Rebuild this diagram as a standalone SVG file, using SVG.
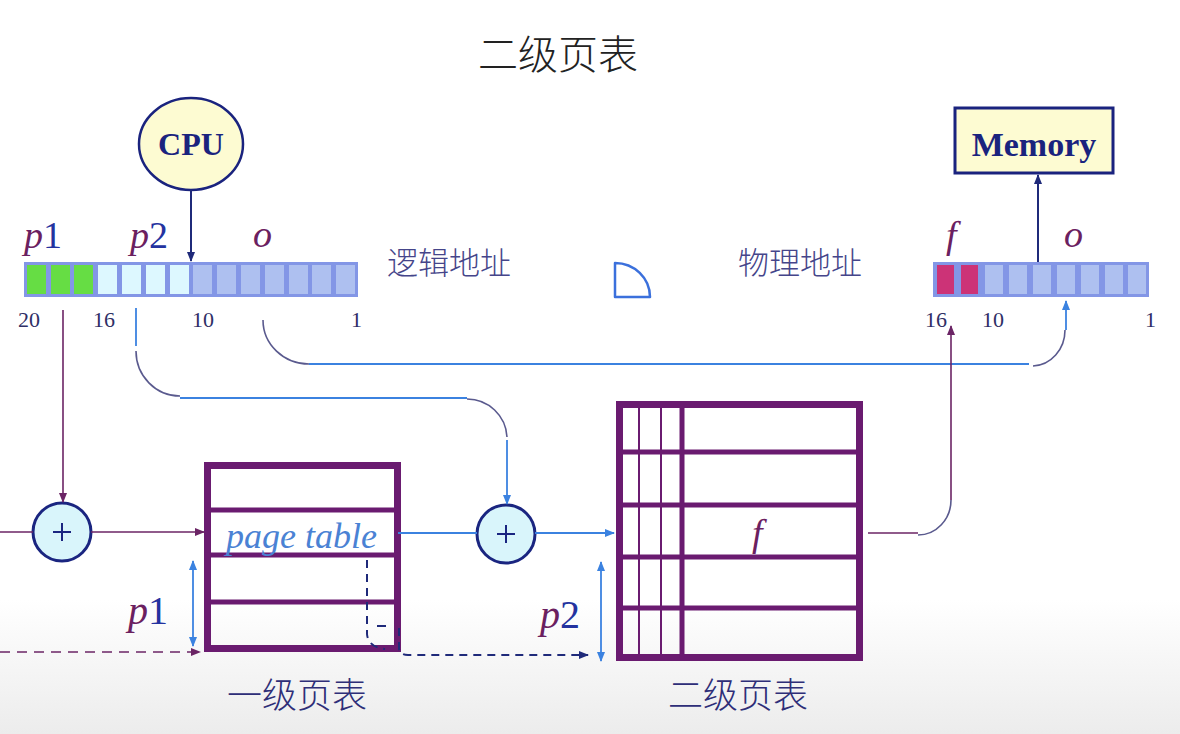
<svg xmlns="http://www.w3.org/2000/svg" width="1180" height="734" viewBox="0 0 1180 734">
<defs>
<linearGradient id="bg" x1="0" y1="0" x2="0" y2="1">
<stop offset="0" stop-color="#ffffff"/>
<stop offset="1" stop-color="#ececec"/>
</linearGradient>
<marker id="ap" viewBox="0 0 10 10" refX="9" refY="5" markerWidth="10" markerHeight="10" markerUnits="userSpaceOnUse" orient="auto-start-reverse"><path d="M0,1 L10,5 L0,9 Z" fill="#6b2465"/></marker>
<marker id="ab" viewBox="0 0 10 10" refX="9" refY="5" markerWidth="10" markerHeight="10" markerUnits="userSpaceOnUse" orient="auto-start-reverse"><path d="M0,1 L10,5 L0,9 Z" fill="#3b82e0"/></marker>
<marker id="an" viewBox="0 0 10 10" refX="9" refY="5" markerWidth="10" markerHeight="10" markerUnits="userSpaceOnUse" orient="auto-start-reverse"><path d="M0,1 L10,5 L0,9 Z" fill="#1f2a7a"/></marker>
</defs>
<style>
.cjk{font-family:"Noto Sans CJK SC","Noto Sans",sans-serif;font-weight:300}
.lbl{fill:#45458a;font-size:31px}
.num{font-family:"Liberation Serif",serif;font-size:22px;fill:#2f2f66}
.it{font-family:"Liberation Serif",serif;font-style:italic;fill:#6b2060}
.dg{font-family:"Liberation Serif",serif;font-style:normal;fill:#2433a0}
.bold{font-family:"Liberation Serif",serif;font-weight:bold;fill:#1a237e}
.pl{stroke:#6b2465;stroke-width:1.6;fill:none}
.bl{stroke:#3b82e0;stroke-width:1.8;fill:none}
.arc{stroke:#5a5a8e;stroke-width:1.6;fill:none}
.nv{stroke:#1f2a7a;stroke-width:2;fill:none}
.tab{stroke:#6a1b70;fill:none}
.plus{fill:#d9f5fb;stroke:#1a2580;stroke-width:3}
.bar{fill:#8396e6}
.cg{fill:#66dd44}
.cc{fill:#ddf8ff}
.cb{fill:#aec0f0}
.cm{fill:#cc3377}
</style>
<rect x="0" y="0" width="1180" height="734" fill="#ffffff"/>
<rect x="0" y="600" width="1180" height="134" fill="url(#bg)"/>

<text id="title" x="558" y="69" text-anchor="middle" class="cjk" font-size="40" fill="#222">二级页表</text>

<g id="cpu">
<ellipse cx="191" cy="144" rx="52" ry="46" fill="#fdfbd2" stroke="#1a237e" stroke-width="2.5"/>
<text x="191" y="155" text-anchor="middle" class="bold" font-size="32">CPU</text>
</g>

<g id="memory">
<rect x="955" y="108" width="158" height="65" fill="#fdfbd2" stroke="#1a237e" stroke-width="3"/>
<text x="1034" y="156" text-anchor="middle" class="bold" font-size="34">Memory</text>
</g>

<g id="logical-address">
<text x="24" y="248" font-size="38"><tspan class="it">p</tspan><tspan class="dg">1</tspan></text>
<text x="130" y="248" font-size="38"><tspan class="it">p</tspan><tspan class="dg">2</tspan></text>
<text x="253" y="247" class="it" font-size="38">o</text>
<rect class="bar" x="24" y="262" width="334" height="35"/>
<rect class="cg" x="27" y="265" width="19" height="29"/>
<rect class="cg" x="51" y="265" width="19" height="29"/>
<rect class="cg" x="74" y="265" width="19" height="29"/>
<rect class="cc" x="98" y="265" width="19" height="29"/>
<rect class="cc" x="122" y="265" width="19" height="29"/>
<rect class="cc" x="146" y="265" width="19" height="29"/>
<rect class="cc" x="170" y="265" width="19" height="29"/>
<rect class="cb" x="193" y="265" width="19" height="29"/>
<rect class="cb" x="217" y="265" width="19" height="29"/>
<rect class="cb" x="241" y="265" width="19" height="29"/>
<rect class="cb" x="265" y="265" width="19" height="29"/>
<rect class="cb" x="289" y="265" width="19" height="29"/>
<rect class="cb" x="312" y="265" width="19" height="29"/>
<rect class="cb" x="336" y="265" width="19" height="29"/>
<text class="num" x="18" y="327">20</text>
<text class="num" x="93" y="327">16</text>
<text class="num" x="192" y="327">10</text>
<text class="num" x="351" y="327">1</text>
<text class="cjk lbl" x="387" y="274">逻辑地址</text>
</g>

<g id="separator">
<path d="M615,297 L615,263 A35,34 0 0 1 650,297 Z" fill="none" stroke="#3b70dc" stroke-width="2.5" stroke-linejoin="round"/>
</g>

<g id="physical-address">
<text class="cjk lbl" x="738" y="274">物理地址</text>
<text x="946" y="248" class="it" font-size="38">f</text>
<text x="1064" y="247" class="it" font-size="38">o</text>
<rect class="bar" x="933" y="262" width="216" height="35"/>
<rect class="cm" x="937" y="265" width="17" height="29"/>
<rect class="cm" x="961" y="265" width="17" height="29"/>
<rect class="cb" x="985" y="265" width="18" height="29"/>
<rect class="cb" x="1009" y="265" width="18" height="29"/>
<rect class="cb" x="1033" y="265" width="18" height="29"/>
<rect class="cb" x="1057" y="265" width="18" height="29"/>
<rect class="cb" x="1081" y="265" width="18" height="29"/>
<rect class="cb" x="1105" y="265" width="18" height="29"/>
<rect class="cb" x="1128" y="265" width="18" height="29"/>
<text class="num" x="925" y="327">16</text>
<text class="num" x="982" y="327">10</text>
<text class="num" x="1145" y="327">1</text>
</g>

<g id="adder1">
<circle class="plus" cx="62" cy="532" r="29"/>
<path d="M53,532 H71 M62,523 V541" stroke="#1a2580" stroke-width="2"/>
</g>

<g id="adder2">
<circle class="plus" cx="506" cy="534" r="29"/>
<path d="M497,534 H515 M506,525 V543" stroke="#1a2580" stroke-width="2"/>
</g>

<g id="table1">
<rect class="tab" x="207.5" y="465.5" width="190" height="183" stroke-width="7"/>
<path class="tab" d="M207,510 H398 M207,555 H398 M207,602 H398" stroke-width="5"/>
<text x="226" y="548" font-family="Liberation Serif,serif" font-style="italic" font-size="36" fill="#4a82d4">page table</text>
<text x="128" y="624" font-size="40"><tspan class="it">p</tspan><tspan class="dg">1</tspan></text>
<text x="227" y="708" class="cjk" font-size="35" fill="#2e2e78">一级页表</text>
</g>

<g id="table2">
<rect class="tab" x="619.5" y="404.5" width="240" height="253" stroke-width="7"/>
<path class="tab" d="M619,452 H860 M619,505 H860 M619,557 H860 M619,608 H860" stroke-width="5"/>
<path class="tab" d="M639,404 V658 M661,404 V658" stroke-width="2"/>
<path class="tab" d="M682,404 V658" stroke-width="5"/>
<text x="752" y="546" class="it" font-size="38">f</text>
<text x="540" y="628" font-size="40"><tspan class="it">p</tspan><tspan class="dg">2</tspan></text>
<text x="668" y="708" class="cjk" font-size="35" fill="#2e2e78">二级页表</text>
</g>

<g id="connectors">
<line class="nv" x1="191" y1="190" x2="191" y2="261" marker-end="url(#an)"/>
<line class="nv" x1="1038" y1="262" x2="1038" y2="175" marker-end="url(#an)"/>
<line class="pl" x1="63" y1="310" x2="63" y2="502" marker-end="url(#ap)"/>
<line class="pl" x1="0" y1="532" x2="33" y2="532"/>
<line class="pl" x1="91" y1="532" x2="204" y2="532" marker-end="url(#ap)"/>
<line class="bl" x1="136" y1="308" x2="136" y2="346"/>
<path class="arc" d="M136,351 A44,45 0 0 0 180,396"/>
<line class="bl" x1="180" y1="398" x2="467" y2="398"/>
<path class="arc" d="M467,399 A40,40 0 0 1 507,437"/>
<line class="bl" x1="507" y1="440" x2="507" y2="504" marker-end="url(#ab)"/>
<path class="arc" d="M263,320 A46,44 0 0 0 309,364"/>
<line class="bl" x1="309" y1="364" x2="1029" y2="364"/>
<path class="arc" d="M1033,366 A33,36 0 0 0 1065,330"/>
<line class="bl" x1="1066" y1="330" x2="1066" y2="301" marker-end="url(#ab)"/>
<line class="bl" x1="398" y1="533" x2="477" y2="533"/>
<line class="bl" x1="535" y1="533" x2="614" y2="533" marker-end="url(#ab)"/>
<line class="pl" x1="868" y1="533" x2="918" y2="533"/>
<path class="arc" d="M918,535 A33,35 0 0 0 951,500"/>
<line class="pl" x1="951" y1="500" x2="951" y2="326" marker-end="url(#ap)"/>
<line class="pl" x1="0" y1="652" x2="200" y2="652" stroke-width="2" stroke-dasharray="10,7" marker-end="url(#ap)"/>
<line class="bl" x1="193" y1="561" x2="193" y2="646" marker-start="url(#ab)" marker-end="url(#ab)"/>
<line class="bl" x1="601" y1="562" x2="601" y2="661" marker-start="url(#ab)" marker-end="url(#ab)"/>
<path class="nv" d="M367,560 V634 Q368,647 385,649" stroke-dasharray="8,6"/>
<line class="nv" x1="377" y1="626" x2="386" y2="626"/>
<path class="nv" d="M399,628 V649 Q400,655 408,655 H588" stroke-dasharray="8,6" marker-end="url(#an)"/>
</g>
</svg>
